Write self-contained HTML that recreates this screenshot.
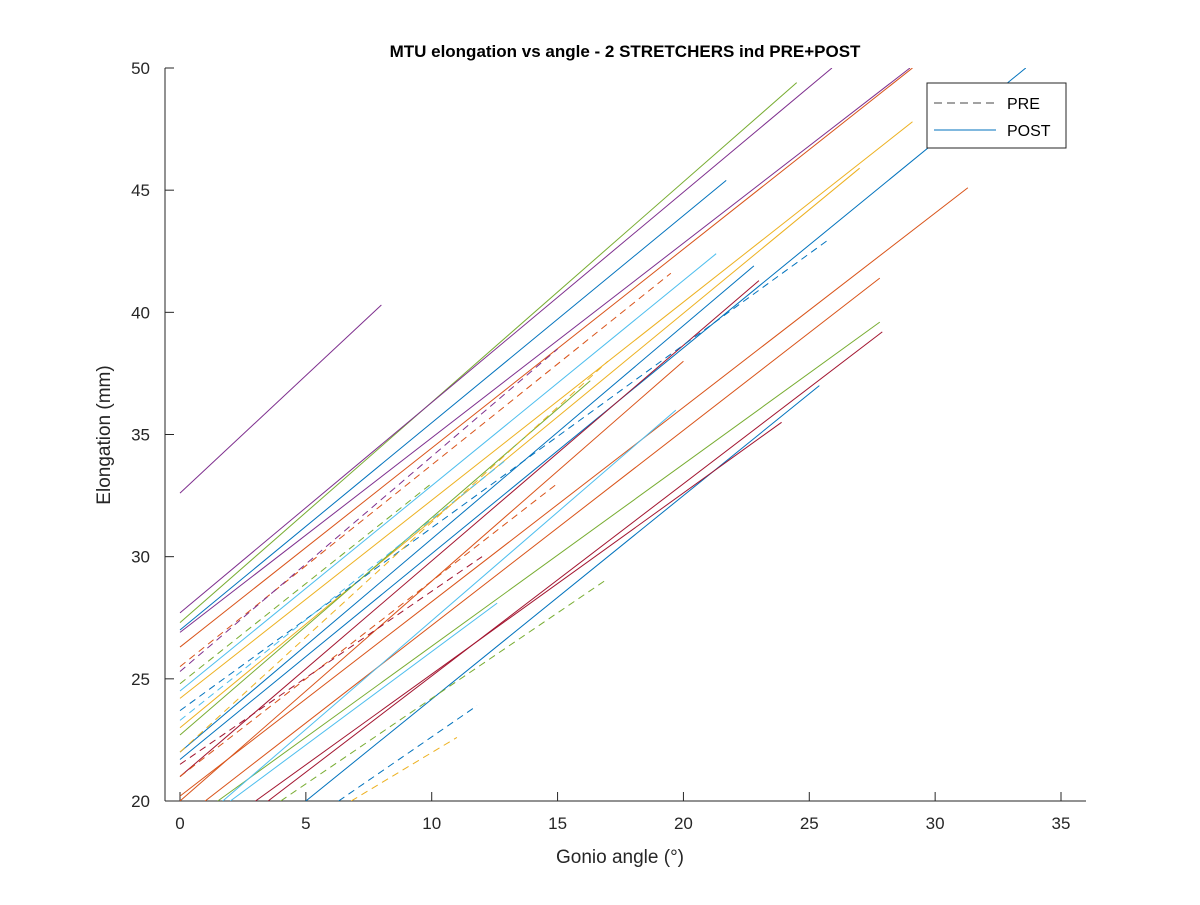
<!DOCTYPE html>
<html><head><meta charset="utf-8"><style>
body{margin:0;background:#fff;font-family:"Liberation Sans",sans-serif}
</style></head><body>
<svg id="chart" width="1200" height="900" xmlns="http://www.w3.org/2000/svg">
<rect width="1200" height="900" fill="#fff"/>
<defs><clipPath id="clip"><rect x="165" y="68" width="921" height="733"/></clipPath></defs>
<text x="625" y="57" font-size="17" font-weight="bold" text-anchor="middle">MTU elongation vs angle - 2 STRETCHERS ind PRE+POST</text>
<g id="axes"></g>
<g id="lines" clip-path="url(#clip)"></g>
<text x="620" y="863" font-size="19" fill="#262626" text-anchor="middle">Gonio angle (°)</text>
<text x="0" y="0" font-size="19" fill="#262626" text-anchor="middle" transform="translate(110,435) rotate(-90)">Elongation (mm)</text>
<g>
<rect x="927" y="83" width="139" height="65" fill="#fff" stroke="#262626" stroke-width="1"/>
<line x1="934" y1="103" x2="996" y2="103" stroke="#444" stroke-dasharray="8,5"/>
<text x="1007" y="109" font-size="16">PRE</text>
<line x1="934" y1="130" x2="996" y2="130" stroke="#0072BD"/>
<text x="1007" y="136" font-size="16">POST</text>
</g>
</svg>
<script>
const xTicks=[0,5,10,15,20,25,30,35];
const yTicks=[20,25,30,35,40,45,50];
const seriesStart=[[0,32.6],[0,27.3],[0,27.7],[0,27],[0,26.9],[0,26.3],[0,24.2],[0,23],[0,21.7],[0,20.2],[0,22],[0,21],[0,24.5],[1,20],[1.5,20],[3.5,20],[5,20],[3,20],[1.7,20],[2,20],[0,22.7],[0,20],
[0,23.7],[0,25.5],[4,20],[6.8,20],[6.3,20],[0,25.3],[0,23.3],[0,21],[0,22],[0,24.8],[0,21.5]];
const seriesEnd=[[8,40.3],[24.5,49.4],[25.9,50],[21.7,45.4],[29,50],[29.1,50],[29.1,47.8],[27,45.9],[33.6,50],[31.3,45.1],[22.8,41.9],[23,41.3],[21.3,42.4],[27.8,41.4],[27.8,39.6],[27.9,39.2],[25.4,37],[23.9,35.5],[19.7,36],[12.6,28.1],[16.3,37.2],[20,38],
[25.8,43],[19.5,41.6],[17,29.1],[11,22.6],[11.8,23.9],[15,38.5],[13,34],[15,33],[17,38],[10,33],[12,30]];
const seriesColor=["#7E2F8E","#77AC30","#7E2F8E","#0072BD","#7E2F8E","#D95319","#EDB120","#EDB120","#0072BD","#D95319","#0072BD","#A2142F","#4DBEEE","#D95319","#77AC30","#A2142F","#0072BD","#A2142F","#4DBEEE","#4DBEEE","#77AC30","#D95319",
"#0072BD","#D95319","#77AC30","#EDB120","#0072BD","#7E2F8E","#4DBEEE","#D95319","#EDB120","#77AC30","#A2142F"];
const seriesDashed=[0,0,0,0,0,0,0,0,0,0,0,0,0,0,0,0,0,0,0,0,0,0,1,1,1,1,1,1,1,1,1,1,1];
const X=v=>180+v*(1061-180)/35, Y=v=>801-(v-20)*(801-68)/30;
const NS="http://www.w3.org/2000/svg";
const ax=document.getElementById('axes'), lg=document.getElementById('lines');
function mk(t,a,p){const e=document.createElementNS(NS,t);for(const k in a)e.setAttribute(k,a[k]);p.appendChild(e);return e;}
let e=mk('line',{x1:165,y1:801,x2:1086,y2:801,stroke:'#262626'},ax);


e=mk('line',{x1:165,y1:68,x2:165,y2:801,stroke:'#262626'},ax);


xTicks.forEach(t=>{mk('line',{x1:X(t),y1:801,x2:X(t),y2:792,stroke:'#262626'},ax);
 const tx=mk('text',{x:X(t),y:829,'font-size':17,fill:'#262626','text-anchor':'middle'},ax);tx.textContent=t;
 
 });
yTicks.forEach(t=>{mk('line',{x1:165,y1:Y(t),x2:174,y2:Y(t),stroke:'#262626'},ax);
 const tx=mk('text',{x:150,y:Y(t)+6,'font-size':17,fill:'#262626','text-anchor':'end'},ax);tx.textContent=t;
 
 });
seriesStart.forEach((s,i)=>{const en=seriesEnd[i];
 const l=mk('line',{x1:X(s[0]),y1:Y(s[1]),x2:X(en[0]),y2:Y(en[1]),stroke:seriesColor[i],'stroke-width':1},lg);
 if(seriesDashed[i])l.setAttribute('stroke-dasharray','7,5');
 
 });
</script>
</body></html>
